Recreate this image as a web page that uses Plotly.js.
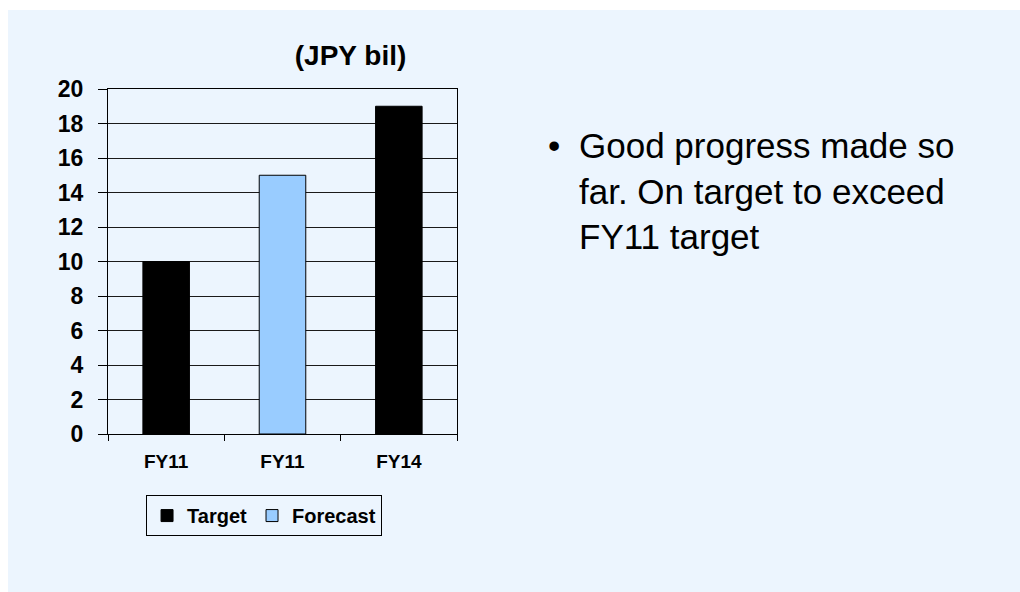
<!DOCTYPE html>
<html>
<head>
<meta charset="utf-8">
<script src="https://cdn.plot.ly/plotly-3.0.1.min.js"></script>
<style>
    html, body { margin: 0; padding: 0; background: #ffffff; }
    #chart { position: absolute; left: 8px; top: 10px; width: 1012px; height: 582px; }
</style>
</head>
<body>
<div id="chart"></div>
<script>
document.addEventListener('DOMContentLoaded', (event) => {
    // category keys must be unique, the labels repeat "FY11"
    const barKeys = ['FY11 target', 'FY11 forecast', 'FY14 target'];
    const periodLabels = ['FY11', 'FY11', 'FY14'];

    const targetKeys = ['FY11 target', 'FY14 target'];
    const targetValues = [10, 19];
    const forecastKeys = ['FY11 forecast'];
    const forecastValues = [15];

    const noteText = 'Good progress made so<br>far. On target to exceed<br>FY11 target';

    const panelColor = '#ecf5fe';
    const fontFamily = 'Liberation Sans, Arial, sans-serif';

    const traceTarget = {
        x: targetKeys,
        y: targetValues,
        type: 'bar',
        name: 'Target',
        width: 0.4,
        marker: {
            color: '#000000',
            line: { color: '#000000', width: 1 }
        },
        hoverinfo: 'y'
    };

    const traceForecast = {
        x: forecastKeys,
        y: forecastValues,
        type: 'bar',
        name: 'Forecast',
        width: 0.4,
        marker: {
            color: '#99ccff',
            line: { color: '#000000', width: 1 }
        },
        hoverinfo: 'y'
    };

    const layout = {
        width: 1012,
        height: 582,
        margin: { l: 100, r: 563, t: 79, b: 158 },
        paper_bgcolor: panelColor,
        plot_bgcolor: panelColor,
        barmode: 'overlay',
        font: { family: fontFamily, color: '#000000' },
        title: {
            text: '(JPY bil)',
            font: { family: fontFamily, size: 28, weight: 700, color: '#000000' },
            xref: 'paper',
            x: 0.695,
            xanchor: 'center',
            yref: 'container',
            y: 0.923,
            yanchor: 'middle'
        },
        xaxis: {
            type: 'category',
            categoryorder: 'array',
            categoryarray: barKeys,
            tickmode: 'array',
            tickvals: barKeys,
            ticktext: periodLabels,
            tickson: 'boundaries',
            ticks: 'outside',
            ticklen: 6,
            tickcolor: '#000000',
            tickwidth: 1,
            ticklabelstandoff: 10,
            tickfont: { family: fontFamily, size: 19, weight: 700, color: '#000000' },
            showline: true,
            linecolor: '#000000',
            linewidth: 1,
            mirror: true,
            showgrid: false,
            fixedrange: true
        },
        yaxis: {
            range: [0, 20],
            dtick: 2,
            ticks: 'outside',
            ticklen: 9,
            tickcolor: '#000000',
            tickwidth: 1,
            ticklabelstandoff: 10,
            tickfont: { family: fontFamily, size: 23, weight: 700, color: '#000000' },
            showline: true,
            linecolor: '#000000',
            linewidth: 1,
            mirror: true,
            showgrid: true,
            gridcolor: '#1a1a1a',
            gridwidth: 1,
            zeroline: false,
            fixedrange: true
        },
        legend: {
            orientation: 'h',
            x: 0.109,
            xanchor: 'left',
            y: -0.177,
            yanchor: 'top',
            bgcolor: panelColor,
            bordercolor: '#000000',
            borderwidth: 1,
            font: { family: fontFamily, size: 20, weight: 700, color: '#000000' },
            traceorder: 'normal'
        },
        annotations: [
            {
                // bullet mark, kept apart for the hanging indent
                text: '•',
                xref: 'paper',
                yref: 'paper',
                x: 1.254,
                y: 0.9,
                xanchor: 'left',
                yanchor: 'top',
                showarrow: false,
                font: { family: fontFamily, size: 35, color: '#000000' }
            },
            {
                text: noteText,
                xref: 'paper',
                yref: 'paper',
                x: 1.344,
                y: 0.9,
                xanchor: 'left',
                yanchor: 'top',
                align: 'left',
                showarrow: false,
                font: { family: fontFamily, size: 35, color: '#000000' }
            }
        ]
    };

    Plotly.newPlot('chart', [traceTarget, traceForecast], layout, { displayModeBar: false, staticPlot: true });
});
</script>
</body>
</html>
